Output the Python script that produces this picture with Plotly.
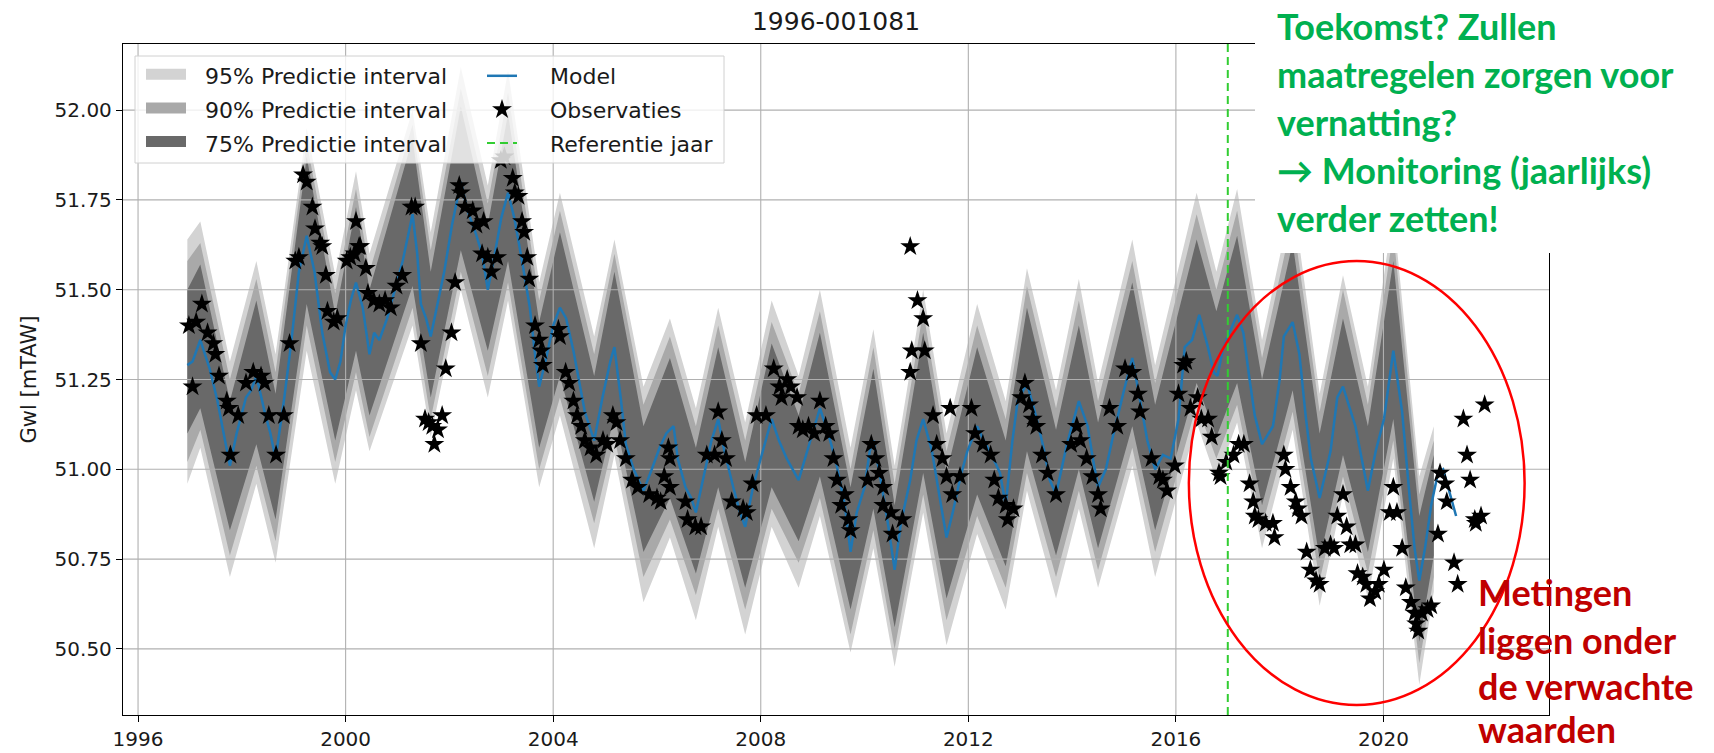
import plotly.graph_objects as go

# ---------------- data ----------------
x_ticks = [1996, 2000, 2004, 2008, 2012, 2016, 2020]
y_ticks = [50.50, 50.75, 51.00, 51.25, 51.50, 51.75, 52.00]
x_range = [1995.71, 2023.19]
y_range = [50.316, 52.184]
ref_year = 2017.0

model_t = [1996.95, 1997.05, 1997.20, 1997.38, 1997.53, 1997.65, 1997.77, 1997.90, 1998.08, 1998.18,
           1998.28, 1998.44, 1998.55, 1998.65, 1998.81, 1998.95, 1999.10, 1999.25, 1999.40, 1999.55,
           1999.70, 1999.80, 1999.90, 2000.00, 2000.10, 2000.20, 2000.33, 2000.46, 2000.55, 2000.65,
           2000.80, 2000.95, 2001.10, 2001.29, 2001.38, 2001.45, 2001.55, 2001.64, 2001.75, 2001.90,
           2002.05, 2002.22, 2002.35, 2002.50, 2002.63, 2002.74, 2002.85, 2003.00, 2003.13, 2003.25,
           2003.40, 2003.55, 2003.65, 2003.73, 2003.85, 2004.00, 2004.13, 2004.25, 2004.39, 2004.50,
           2004.61, 2004.79, 2004.95, 2005.10, 2005.18, 2005.30, 2005.40, 2005.55, 2005.74, 2005.90,
           2006.05, 2006.18, 2006.32, 2006.40, 2006.55, 2006.66, 2006.75, 2006.90, 2007.05, 2007.18,
           2007.30, 2007.47, 2007.60, 2007.70, 2007.85, 2008.00, 2008.21, 2008.35, 2008.50, 2008.73,
           2008.90, 2009.14, 2009.30, 2009.45, 2009.62, 2009.73, 2009.85, 2010.00, 2010.10, 2010.17,
           2010.30, 2010.45, 2010.58, 2010.70, 2010.88, 2011.00, 2011.13, 2011.30, 2011.45, 2011.58,
           2011.70, 2011.85, 2011.98, 2012.17, 2012.30, 2012.45, 2012.61, 2012.72, 2012.85, 2012.95,
           2013.13, 2013.30, 2013.45, 2013.57, 2013.69, 2013.80, 2013.90, 2014.13, 2014.30, 2014.40,
           2014.50, 2014.65, 2014.80, 2015.00, 2015.16, 2015.30, 2015.45, 2015.60, 2015.75, 2015.90,
           2016.05, 2016.17, 2016.31, 2016.45, 2016.60, 2016.73, 2016.80, 2016.90, 2017.00, 2017.18,
           2017.30, 2017.42, 2017.52, 2017.66, 2017.87, 2018.00, 2018.08, 2018.25, 2018.38, 2018.50,
           2018.60, 2018.77, 2018.90, 2018.98, 2019.11, 2019.22, 2019.35, 2019.46, 2019.58, 2019.70,
           2019.85, 2020.01, 2020.19, 2020.30, 2020.36, 2020.50, 2020.60, 2020.69, 2020.80, 2020.92,
           2021.05, 2021.15, 2021.29, 2021.40]
model_v = [51.29, 51.30, 51.36, 51.28, 51.19, 51.10, 51.01, 51.10, 51.20, 51.22,
           51.26, 51.16, 51.10, 51.03, 51.19, 51.35, 51.55, 51.65, 51.55, 51.38,
           51.27, 51.25, 51.30, 51.40, 51.47, 51.52, 51.45, 51.32, 51.38, 51.36,
           51.42, 51.50, 51.58, 51.71, 51.60, 51.46, 51.42, 51.37, 51.45, 51.55,
           51.68, 51.80, 51.72, 51.66, 51.60, 51.50, 51.58, 51.70, 51.77, 51.70,
           51.58, 51.45, 51.32, 51.23, 51.30, 51.40, 51.45, 51.42, 51.33, 51.25,
           51.16, 51.08, 51.20, 51.30, 51.34, 51.20, 51.07, 51.00, 50.94, 51.00,
           51.06, 51.10, 51.12, 51.03, 50.95, 50.92, 50.88, 50.98, 51.08, 51.14,
           51.05, 50.95, 50.88, 50.84, 50.95, 51.03, 51.14, 51.08, 51.03, 50.97,
           51.05, 51.17, 51.10, 51.02, 50.90, 50.77, 50.88, 50.95, 51.05, 51.08,
           50.98, 50.85, 50.72, 50.85, 50.97, 51.08, 51.14, 51.05, 50.92, 50.81,
           50.88, 50.98, 51.05, 51.12, 51.08, 51.04, 50.99, 50.90, 51.08, 51.19,
           51.24, 51.15, 51.06, 50.97, 50.93, 51.00, 51.07, 51.19, 51.12, 51.03,
           50.95, 51.00, 51.10, 51.22, 51.31, 51.20, 51.08, 51.00, 51.04, 51.03,
           51.14, 51.34, 51.36, 51.43, 51.35, 51.27, 51.26, 51.33, 51.37, 51.43,
           51.38, 51.25, 51.15, 51.07, 51.12, 51.25, 51.37, 51.41, 51.32, 51.15,
           51.03, 50.92, 51.00, 51.05, 51.20, 51.23, 51.17, 51.12, 51.03, 50.94,
           51.05, 51.14, 51.33, 51.22, 51.16, 50.93, 50.78, 50.69, 50.78, 50.90,
           50.99, 51.00, 50.93, 50.87]

band_t = [1996.95, 1997.20, 1997.77, 1998.28, 1998.65, 1999.25, 1999.80, 2000.20, 2000.46, 2001.29,
          2001.64, 2002.22, 2002.74, 2003.13, 2003.73, 2004.13, 2004.79, 2005.18, 2005.74, 2006.25,
          2006.75, 2007.18, 2007.70, 2008.21, 2008.73, 2009.14, 2009.73, 2010.17, 2010.58, 2011.13,
          2011.58, 2012.17, 2012.72, 2013.13, 2013.69, 2014.13, 2014.50, 2015.16, 2015.60, 2016.40,
          2016.78, 2017.18, 2017.66, 2018.25, 2018.77, 2019.22, 2019.70, 2020.19, 2020.69, 2020.97]
p95_hi = [51.64, 51.69, 51.30, 51.58, 51.32, 51.95, 51.54, 51.83, 51.60, 52.00,
          51.66, 52.12, 51.79, 52.11, 51.52, 51.77, 51.37, 51.64, 51.23, 51.42,
          51.17, 51.45, 51.13, 51.47, 51.26, 51.50, 51.06, 51.39, 51.01, 51.50,
          51.10, 51.46, 51.19, 51.56, 51.22, 51.53, 51.24, 51.64, 51.29, 51.77,
          51.55, 51.78, 51.36, 51.76, 51.21, 51.54, 51.23, 51.72, 50.98, 51.12]
p95_lo = [50.96, 51.06, 50.70, 50.96, 50.74, 51.33, 50.96, 51.22, 51.05, 51.40,
          51.09, 51.50, 51.20, 51.47, 50.95, 51.15, 50.78, 51.04, 50.63, 50.81,
          50.58, 50.84, 50.54, 50.84, 50.67, 50.87, 50.49, 50.78, 50.45, 50.88,
          50.51, 50.82, 50.61, 50.94, 50.64, 50.89, 50.67, 51.01, 50.70, 51.13,
          50.97, 51.13, 50.78, 51.11, 50.62, 50.93, 50.64, 51.03, 50.40, 50.66]
p90_hi = [51.58, 51.63, 51.25, 51.53, 51.27, 51.91, 51.49, 51.78, 51.55, 51.96,
          51.61, 52.06, 51.74, 52.05, 51.47, 51.72, 51.32, 51.60, 51.18, 51.37,
          51.12, 51.40, 51.08, 51.41, 51.21, 51.44, 51.00, 51.34, 50.96, 51.44,
          51.05, 51.40, 51.14, 51.51, 51.17, 51.47, 51.19, 51.58, 51.24, 51.71,
          51.50, 51.72, 51.31, 51.70, 51.16, 51.50, 51.18, 51.66, 50.93, 51.08]
p90_lo = [51.02, 51.11, 50.76, 51.01, 50.80, 51.40, 51.02, 51.27, 51.09, 51.45,
          51.14, 51.55, 51.26, 51.52, 51.00, 51.20, 50.85, 51.09, 50.70, 50.86,
          50.65, 50.89, 50.61, 50.89, 50.74, 50.92, 50.54, 50.83, 50.50, 50.93,
          50.58, 50.87, 50.67, 50.99, 50.70, 50.94, 50.72, 51.06, 50.77, 51.18,
          51.03, 51.18, 50.84, 51.16, 50.69, 50.98, 50.71, 51.08, 50.46, 50.70]
p75_hi = [51.50, 51.57, 51.19, 51.47, 51.21, 51.87, 51.43, 51.73, 51.50, 51.92,
          51.55, 52.01, 51.68, 51.99, 51.41, 51.66, 51.26, 51.55, 51.12, 51.31,
          51.06, 51.34, 51.02, 51.35, 51.15, 51.38, 50.95, 51.28, 50.90, 51.38,
          50.99, 51.34, 51.08, 51.45, 51.11, 51.40, 51.13, 51.52, 51.18, 51.64,
          51.44, 51.65, 51.25, 51.63, 51.10, 51.42, 51.12, 51.58, 50.87, 51.04]
p75_lo = [51.10, 51.17, 50.83, 51.07, 50.86, 51.46, 51.08, 51.33, 51.15, 51.51,
          51.20, 51.61, 51.33, 51.58, 51.06, 51.26, 50.91, 51.15, 50.77, 50.92,
          50.71, 50.95, 50.67, 50.95, 50.80, 50.98, 50.61, 50.89, 50.56, 50.99,
          50.64, 50.93, 50.73, 51.05, 50.76, 51.00, 50.78, 51.12, 50.83, 51.24,
          51.09, 51.24, 50.90, 51.22, 50.75, 51.04, 50.77, 51.14, 50.52, 50.76]

obs_t = [1996.98, 1997.05, 1997.12, 1997.23, 1997.34, 1997.45, 1997.49, 1997.56, 1997.71, 1997.75,
         1997.78, 1997.93, 1998.08, 1998.22, 1998.37, 1998.44, 1998.52, 1998.66, 1998.81, 1998.92,
         1999.03, 1999.10, 1999.18, 1999.25, 1999.36, 1999.41, 1999.51, 1999.55, 1999.62, 1999.65,
         1999.77, 1999.84, 2000.02, 2000.09, 2000.17, 2000.20, 2000.26, 2000.28, 2000.39, 2000.43,
         2000.54, 2000.65, 2000.76, 2000.87, 2000.98, 2001.09, 2001.27, 2001.34, 2001.45, 2001.53,
         2001.60, 2001.67, 2001.71, 2001.78, 2001.86, 2001.93, 2002.04, 2002.11, 2002.19, 2002.22,
         2002.30, 2002.45, 2002.52, 2002.66, 2002.63, 2002.74, 2002.81, 2002.92, 2002.99, 2003.06,
         2003.22, 2003.26, 2003.33, 2003.40, 2003.44, 2003.50, 2003.54, 2003.65, 2003.73, 2003.77,
         2003.80, 2004.10, 2004.13, 2004.24, 2004.31, 2004.39, 2004.46, 2004.54, 2004.61, 2004.72,
         2004.83, 2004.96, 2005.04, 2005.15, 2005.22, 2005.29, 2005.40, 2005.52, 2005.63, 2005.85,
         2006.00, 2006.07, 2006.14, 2006.22, 2006.25, 2006.25, 2006.55, 2006.59, 2006.74, 2006.85,
         2006.96, 2007.11, 2007.18, 2007.25, 2007.33, 2007.44, 2007.66, 2007.73, 2007.84, 2007.92,
         2008.10, 2008.25, 2008.36, 2008.40, 2008.51, 2008.58, 2008.70, 2008.73, 2008.81, 2008.92,
         2009.03, 2009.14, 2009.25, 2009.32, 2009.40, 2009.47, 2009.55, 2009.62, 2009.69, 2009.73,
         2010.06, 2010.13, 2010.21, 2010.28, 2010.36, 2010.36, 2010.51, 2010.54, 2010.73, 2010.88,
         2010.88, 2010.91, 2011.02, 2011.13, 2011.16, 2011.32, 2011.39, 2011.50, 2011.58, 2011.65,
         2011.69, 2011.84, 2012.06, 2012.13, 2012.28, 2012.43, 2012.50, 2012.58, 2012.72, 2012.76,
         2012.87, 2013.02, 2013.09, 2013.17, 2013.24, 2013.31, 2013.42, 2013.53, 2013.69, 2013.98,
         2014.09, 2014.16, 2014.28, 2014.39, 2014.50, 2014.55, 2014.72, 2014.87, 2015.02, 2015.16,
         2015.27, 2015.31, 2015.53, 2015.68, 2015.75, 2015.83, 2015.98, 2016.05, 2016.14, 2016.20,
         2016.28, 2016.42, 2016.49, 2016.62, 2016.69, 2016.83, 2016.86, 2016.97, 2017.11, 2017.21,
         2017.31, 2017.42, 2017.49, 2017.52, 2017.59, 2017.73, 2017.87, 2017.90, 2018.08, 2018.11,
         2018.21, 2018.31, 2018.35, 2018.42, 2018.52, 2018.59, 2018.70, 2018.77, 2018.87, 2018.98,
         2019.05, 2019.11, 2019.22, 2019.29, 2019.36, 2019.46, 2019.50, 2019.60, 2019.67, 2019.74,
         2019.84, 2019.91, 2020.01, 2020.12, 2020.19, 2020.26, 2020.36, 2020.43, 2020.53, 2020.60,
         2020.63, 2020.67, 2020.74, 2020.85, 2020.92, 2021.05, 2021.09, 2021.19, 2021.22, 2021.36,
         2021.43, 2021.54, 2021.61, 2021.67, 2021.76, 2021.78, 2021.88, 2021.95]
obs_v = [51.40, 51.23, 51.41, 51.46, 51.38, 51.35, 51.32, 51.26, 51.19, 51.17,
         51.04, 51.15, 51.24, 51.27, 51.26, 51.24, 51.15, 51.04, 51.15, 51.35,
         51.58, 51.59, 51.82, 51.80, 51.73, 51.67, 51.63, 51.62, 51.54, 51.44,
         51.41, 51.42, 51.58, 51.59, 51.60, 51.69, 51.62, 51.62, 51.56, 51.49,
         51.47, 51.46, 51.47, 51.45, 51.51, 51.54, 51.73, 51.73, 51.35, 51.14,
         51.13, 51.12, 51.07, 51.11, 51.15, 51.28, 51.38, 51.52, 51.79, 51.77,
         51.73, 51.72, 51.68, 51.69, 51.60, 51.59, 51.55, 51.59, 51.86, 51.87,
         51.81, 51.77, 51.76, 51.69, 51.66, 51.59, 51.53, 51.40, 51.36, 51.33,
         51.29, 51.39, 51.37, 51.27, 51.24, 51.19, 51.15, 51.12, 51.08, 51.06,
         51.04, 51.08, 51.07, 51.15, 51.13, 51.08, 51.03, 50.97, 50.95, 50.93,
         50.92, 50.91, 50.98, 51.06, 51.03, 50.95, 50.91, 50.86, 50.84, 50.84,
         51.04, 51.04, 51.16, 51.08, 51.03, 50.91, 50.89, 50.88, 50.96, 51.15,
         51.15, 51.28, 51.23, 51.20, 51.25, 51.23, 51.20, 51.12, 51.11, 51.12,
         51.10, 51.19, 51.12, 51.10, 51.03, 50.97, 50.90, 50.93, 50.86, 50.83,
         50.97, 51.07, 51.03, 50.99, 50.95, 50.90, 50.88, 50.82, 50.86, 51.62,
         51.27, 51.33, 51.47, 51.42, 51.33, 51.15, 51.07, 51.03, 50.98, 51.17,
         50.93, 50.98, 51.17, 51.10, 51.07, 51.04, 50.97, 50.92, 50.90, 50.86,
         50.89, 51.20, 51.24, 51.18, 51.14, 51.12, 51.04, 50.99, 50.93, 51.07,
         51.12, 51.08, 51.03, 50.98, 50.93, 50.89, 51.17, 51.12, 51.28, 51.27,
         51.21, 51.16, 51.03, 50.98, 50.97, 50.94, 51.01, 51.21, 51.29, 51.30,
         51.17, 51.20, 51.14, 51.14, 51.09, 50.99, 50.98, 51.02, 51.04, 51.07,
         51.07, 50.96, 50.91, 50.87, 50.86, 50.85, 50.85, 50.81, 51.04, 51.00,
         50.95, 50.91, 50.89, 50.87, 50.77, 50.72, 50.69, 50.68, 50.78, 50.79,
         50.78, 50.87, 50.93, 50.84, 50.79, 50.79, 50.71, 50.70, 50.68, 50.64,
         50.66, 50.68, 50.72, 50.88, 50.95, 50.88, 50.78, 50.67, 50.63, 50.60,
         50.57, 50.55, 50.60, 50.61, 50.62, 50.82, 50.99, 50.96, 50.91, 50.74,
         50.68, 51.14, 51.04, 50.97, 50.86, 50.85, 50.87, 51.18]

# annotation texts
green_lines = ["Toekomst? Zullen", "maatregelen zorgen voor", "vernatting?",
               "\u2192 Monitoring (jaarlijks)", "verder zetten!"]
red_lines = ["Metingen", "liggen onder", "de verwachte", "waarden"]

# ---------------- layout geometry (pixels) ----------------
W, H = 1714, 753
L, R, T, B = 123, 165, 44, 38
PW, PH = W - L - R, H - T - B


def fx(px):
    return (px - L) / PW


def fy(py):
    return (H - B - py) / PH


TXT = "DejaVu Sans"
NB2 = "\u00a0\u00a0"
NB4 = "\u00a0\u00a0\u00a0\u00a0"
fig = go.Figure()

bands = [(p95_lo, p95_hi, "#d3d3d3", "95% Predictie interval"),
         (p90_lo, p90_hi, "#a9a9a9", "90% Predictie interval"),
         (p75_lo, p75_hi, "#696969", "75% Predictie interval")]
for lo, hi, color, name in bands:
    fig.add_trace(go.Scatter(
        x=band_t + band_t[::-1], y=hi + lo[::-1], fill="toself", fillcolor=color,
        line=dict(width=0, color=color), mode="lines", showlegend=False, hoverinfo="skip"))

# grid drawn above the bands (as matplotlib does) but below line / markers
gx, gy = [], []
for t in x_ticks:
    gx += [t, t, None]
    gy += [y_range[0], y_range[1], None]
for v in y_ticks:
    gx += [x_range[0], x_range[1], None]
    gy += [v, v, None]
fig.add_trace(go.Scatter(x=gx, y=gy, mode="lines", line=dict(color="#b0b0b0", width=1.1),
                         showlegend=False, hoverinfo="skip"))

fig.add_trace(go.Scatter(x=model_t, y=model_v, mode="lines", name=NB4 + "Model",
                         line=dict(color="#1f77b4", width=2.5),
                         legend="legend2", legendgroup="model"))
fig.add_trace(go.Scatter(x=obs_t, y=obs_v, mode="markers", name=NB4 + "Observaties",
                         marker=dict(symbol="star", size=15, color="black", line=dict(width=0)),
                         legend="legend2", legendgroup="obs"))
fig.add_trace(go.Scatter(x=[ref_year, ref_year], y=y_range, mode="lines", name=NB4 + "Referentie jaar",
                         line=dict(color="#32cd32", width=2, dash="8px,5px"),
                         legend="legend2", legendgroup="ref"))

# legend patches for the three prediction intervals
for lo, hi, color, name in bands:
    fig.add_trace(go.Scatter(x=[None], y=[None], mode="lines", fill="toself", fillcolor=color,
                             line=dict(color=color, width=10), name=NB2 + name,
                             legend="legend", legendgroup=name))

axis_common = dict(showgrid=False, zeroline=False, showline=True, linecolor="black",
                   linewidth=1.3, mirror=True, ticks="outside", ticklen=6, tickwidth=1.3,
                   tickcolor="black", tickfont=dict(family=TXT, size=20, color="#1a1a1a"))

shapes = [
    # legend frame
    dict(type="rect", xref="paper", yref="paper", x0=fx(135), x1=fx(724), y0=fy(163), y1=fy(56),
         fillcolor="rgba(255,255,255,0.8)", line=dict(color="#d0d0d0", width=1), layer="above"),
    # white text panel covering the upper right corner
    dict(type="rect", xref="paper", yref="paper", x0=fx(1255), x1=fx(W + 5), y0=fy(253), y1=fy(-5),
         fillcolor="white", line=dict(width=0), layer="above"),
    # red ellipse
    dict(type="circle", xref="x", yref="y", x0=2016.25, x1=2022.72, y0=50.344, y1=51.580,
         line=dict(color="#ff0000", width=2.5), layer="above"),
]

annotations = []
for txt, py in zip(green_lines, [26, 74, 122, 170, 218]):
    annotations.append(dict(text="<b>" + txt + "</b>", xref="paper", yref="paper", x=fx(1275), y=fy(py),
                            xanchor="left", yanchor="middle", showarrow=False,
                            font=dict(family="Lato", size=36, color="#00b050")))
for txt, py in zip(red_lines, [592, 640, 686, 729]):
    annotations.append(dict(text="<b>" + txt + "</b>", xref="paper", yref="paper", x=fx(1476), y=fy(py),
                            xanchor="left", yanchor="middle", showarrow=False,
                            font=dict(family="Lato", size=36, color="#c00000")))

leg_common = dict(bgcolor="rgba(0,0,0,0)", borderwidth=0, font=dict(family=TXT, size=22, color="#1a1a1a"),
                  xanchor="left", yanchor="top", traceorder="grouped", tracegroupgap=2)

fig.update_layout(
    width=W, height=H, margin=dict(l=L, r=R, t=T, b=B, autoexpand=False),
    paper_bgcolor="white", plot_bgcolor="white",
    title=dict(text="1996-001081", x=0.5, xref="paper", xanchor="center", y=1 - 21 / H,
               yref="container", yanchor="middle", font=dict(family=TXT, size=25, color="#1a1a1a")),
    xaxis=dict(range=x_range, tickvals=x_ticks, ticktext=[str(t) for t in x_ticks], **axis_common),
    yaxis=dict(range=y_range, tickvals=y_ticks, ticktext=["%.2f" % v for v in y_ticks],
               title=dict(text="Gwl [mTAW]", standoff=12, font=dict(family=TXT, size=21, color="#1a1a1a")),
               **axis_common),
    legend=dict(x=fx(141), y=fy(55), itemwidth=40, **leg_common),
    legend2=dict(x=fx(482), y=fy(55), itemwidth=30, **leg_common),
    shapes=shapes, annotations=annotations, showlegend=True,
)

fig.write_html("out.html", config={"displayModeBar": False},
               post_script="document.body.style.margin='0';document.body.style.padding='0';")
